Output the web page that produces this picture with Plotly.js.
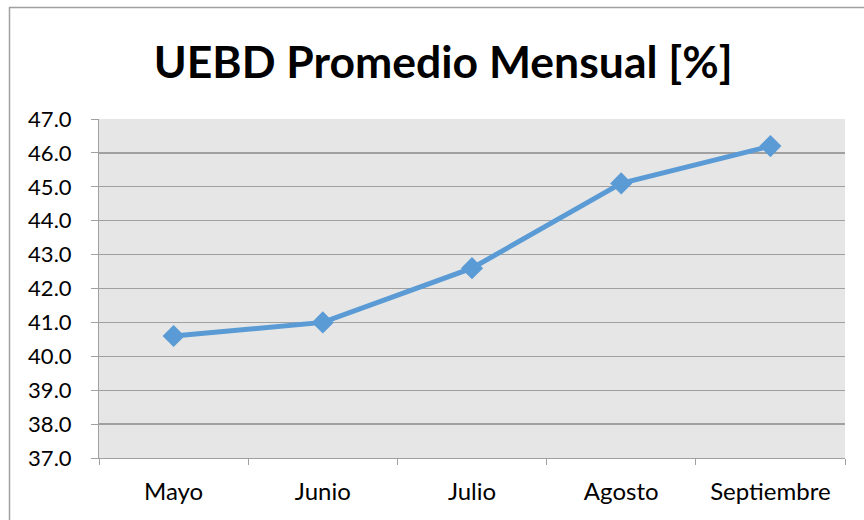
<!DOCTYPE html>
<html>
<head>
<meta charset="utf-8">
<script src="https://cdn.plot.ly/plotly-3.0.1.min.js"></script>
<style>
html,body{margin:0;padding:0;background:#fff;}
#chart{width:864px;height:520px;}
</style>
</head>
<body>
<div id="chart"></div>
<script>
const months = ["Mayo", "Junio", "Julio", "Agosto", "Septiembre"];
const uebd = [40.6, 41.0, 42.6, 45.1, 46.2];
const yTicks = [37, 38, 39, 40, 41, 42, 43, 44, 45, 46, 47];

const W = 864, H = 520;
const m = {l: 99, r: 19, t: 119, b: 62};
const pw = W - m.l - m.r, ph = H - m.t - m.b;
function px2x(p){ return (p - m.l) / pw; }
function px2y(p){ return (H - m.b - p) / ph; }

const trace = {
  x: months,
  y: uebd,
  type: 'scatter',
  mode: 'lines+markers',
  line: {color: '#5b9bd5', width: 5},
  marker: {symbol: 'diamond', size: 17, color: '#5b9bd5'},
  hoverinfo: 'x+y'
};

const layout = {
  width: W, height: H,
  margin: m,
  paper_bgcolor: '#ffffff',
  plot_bgcolor: '#e6e6e6',
  font: {family: 'Lato, "Open Sans", sans-serif', color: '#000'},
  title: {
    text: '<b>UEBD Promedio Mensual [%]</b>',
    font: {size: 44.5, family: 'Lato, "Open Sans", sans-serif', color: '#000'},
    x: 0.513, xanchor: 'center',
    y: 1 - 62 / H, yanchor: 'middle'
  },
  showlegend: false,
  xaxis: {
    type: 'category',
    range: [-0.5, 4.5],
    tickson: 'boundaries',
    ticks: 'outside', ticklen: 6, tickcolor: '#a0a0a0', tickwidth: 1,
    showline: true, linecolor: '#a0a0a0', linewidth: 1,
    showgrid: false, zeroline: false,
    tickfont: {size: 24},
    ticklabelstandoff: 12,
    fixedrange: true
  },
  yaxis: {
    range: [37, 47],
    tickvals: yTicks,
    ticktext: yTicks.map(v => v.toFixed(1)),
    ticks: 'outside', ticklen: 7, tickcolor: '#a0a0a0', tickwidth: 1,
    showline: true, linecolor: '#a0a0a0', linewidth: 1,
    showgrid: true, gridcolor: '#a0a0a0', gridwidth: 1.3,
    zeroline: false,
    tickfont: {size: 22},
    ticklabelstandoff: 15,
    fixedrange: true
  },
  shapes: [{
    type: 'rect', xref: 'paper', yref: 'paper',
    x0: px2x(9.5), x1: px2x(900), y0: px2y(560), y1: px2y(7.5),
    line: {color: '#a0a0a0', width: 1.5}, fillcolor: 'rgba(0,0,0,0)', layer: 'above'
  }]
};

Plotly.newPlot('chart', [trace], layout, {displayModeBar: false, staticPlot: true});
</script>
</body>
</html>
